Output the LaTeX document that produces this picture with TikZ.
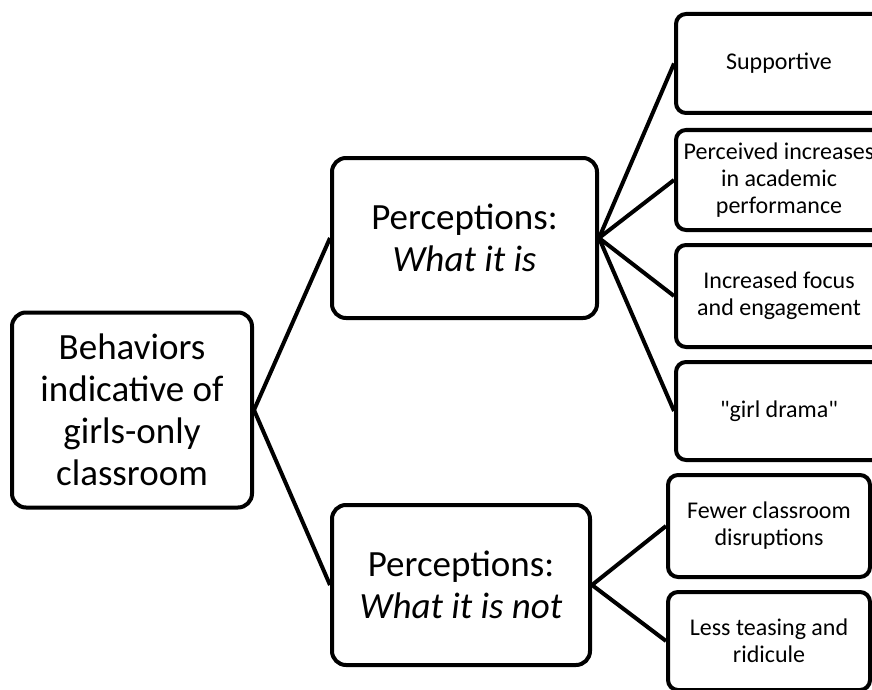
\documentclass[tikz,border=0pt]{standalone}
\usepackage{fontspec}
\setmainfont{Carlito}

\begin{document}
\begin{tikzpicture}[x=1pt,y=-1pt,
    box/.style={draw, line width=4pt, rounded corners=14pt, align=center, inner sep=0pt},
    bigbox/.style={box, font=\fontsize{37}{42}\selectfont},
    smallbox/.style={box, rounded corners=10pt, minimum width=202pt, font=\fontsize{24}{27}\selectfont},
    link/.style={line width=4pt}]
    \useasboundingbox (0,0) rectangle (872,690);
    \clip (0,0) rectangle (872,690);
    % Root
    \node[bigbox, minimum width=240pt, minimum height=195pt] (root) at (132,410)
      {Behaviors\\indicative of\\girls-only\\classroom};
    % Perceptions
    \node[bigbox, minimum width=265pt, minimum height=160pt] (whatis) at (464.5,238)
      {Perceptions:\\\textit{What it is}};
    \node[bigbox, minimum width=258pt, minimum height=160pt] (whatnot) at (461,585)
      {Perceptions:\\\textit{What it is not}};
    % What it is
    \node[smallbox, minimum width=206pt, minimum height=99pt] (supp) at (779,63.5) {Supportive};
    \node[smallbox, minimum width=206pt, minimum height=100pt] (perf) at (779,180)
      {Perceived increases\\in academic\\performance};
    \node[smallbox, minimum width=206pt, minimum height=102pt] (focus) at (779,296)
      {Increased focus\\and engagement};
    \node[smallbox, minimum width=206pt, minimum height=98pt] (drama) at (779,411)
      {\textquotedbl girl drama\textquotedbl};
    % What it is not
    \node[smallbox, minimum height=102pt] (disrupt) at (769,526)
      {Fewer classroom\\disruptions};
    \node[smallbox, minimum height=98pt] (tease) at (769,641)
      {Less teasing and\\ridicule};
    % Links
    \draw[link] (root.east) -- (whatis.west);
    \draw[link] (root.east) -- (whatnot.west);
    \draw[link] (whatis.east) -- (supp.west);
    \draw[link] (whatis.east) -- (perf.west);
    \draw[link] (whatis.east) -- (focus.west);
    \draw[link] (whatis.east) -- (drama.west);
    \draw[link] (whatnot.east) -- (disrupt.west);
    \draw[link] (whatnot.east) -- (tease.west);
\end{tikzpicture}
\end{document}
